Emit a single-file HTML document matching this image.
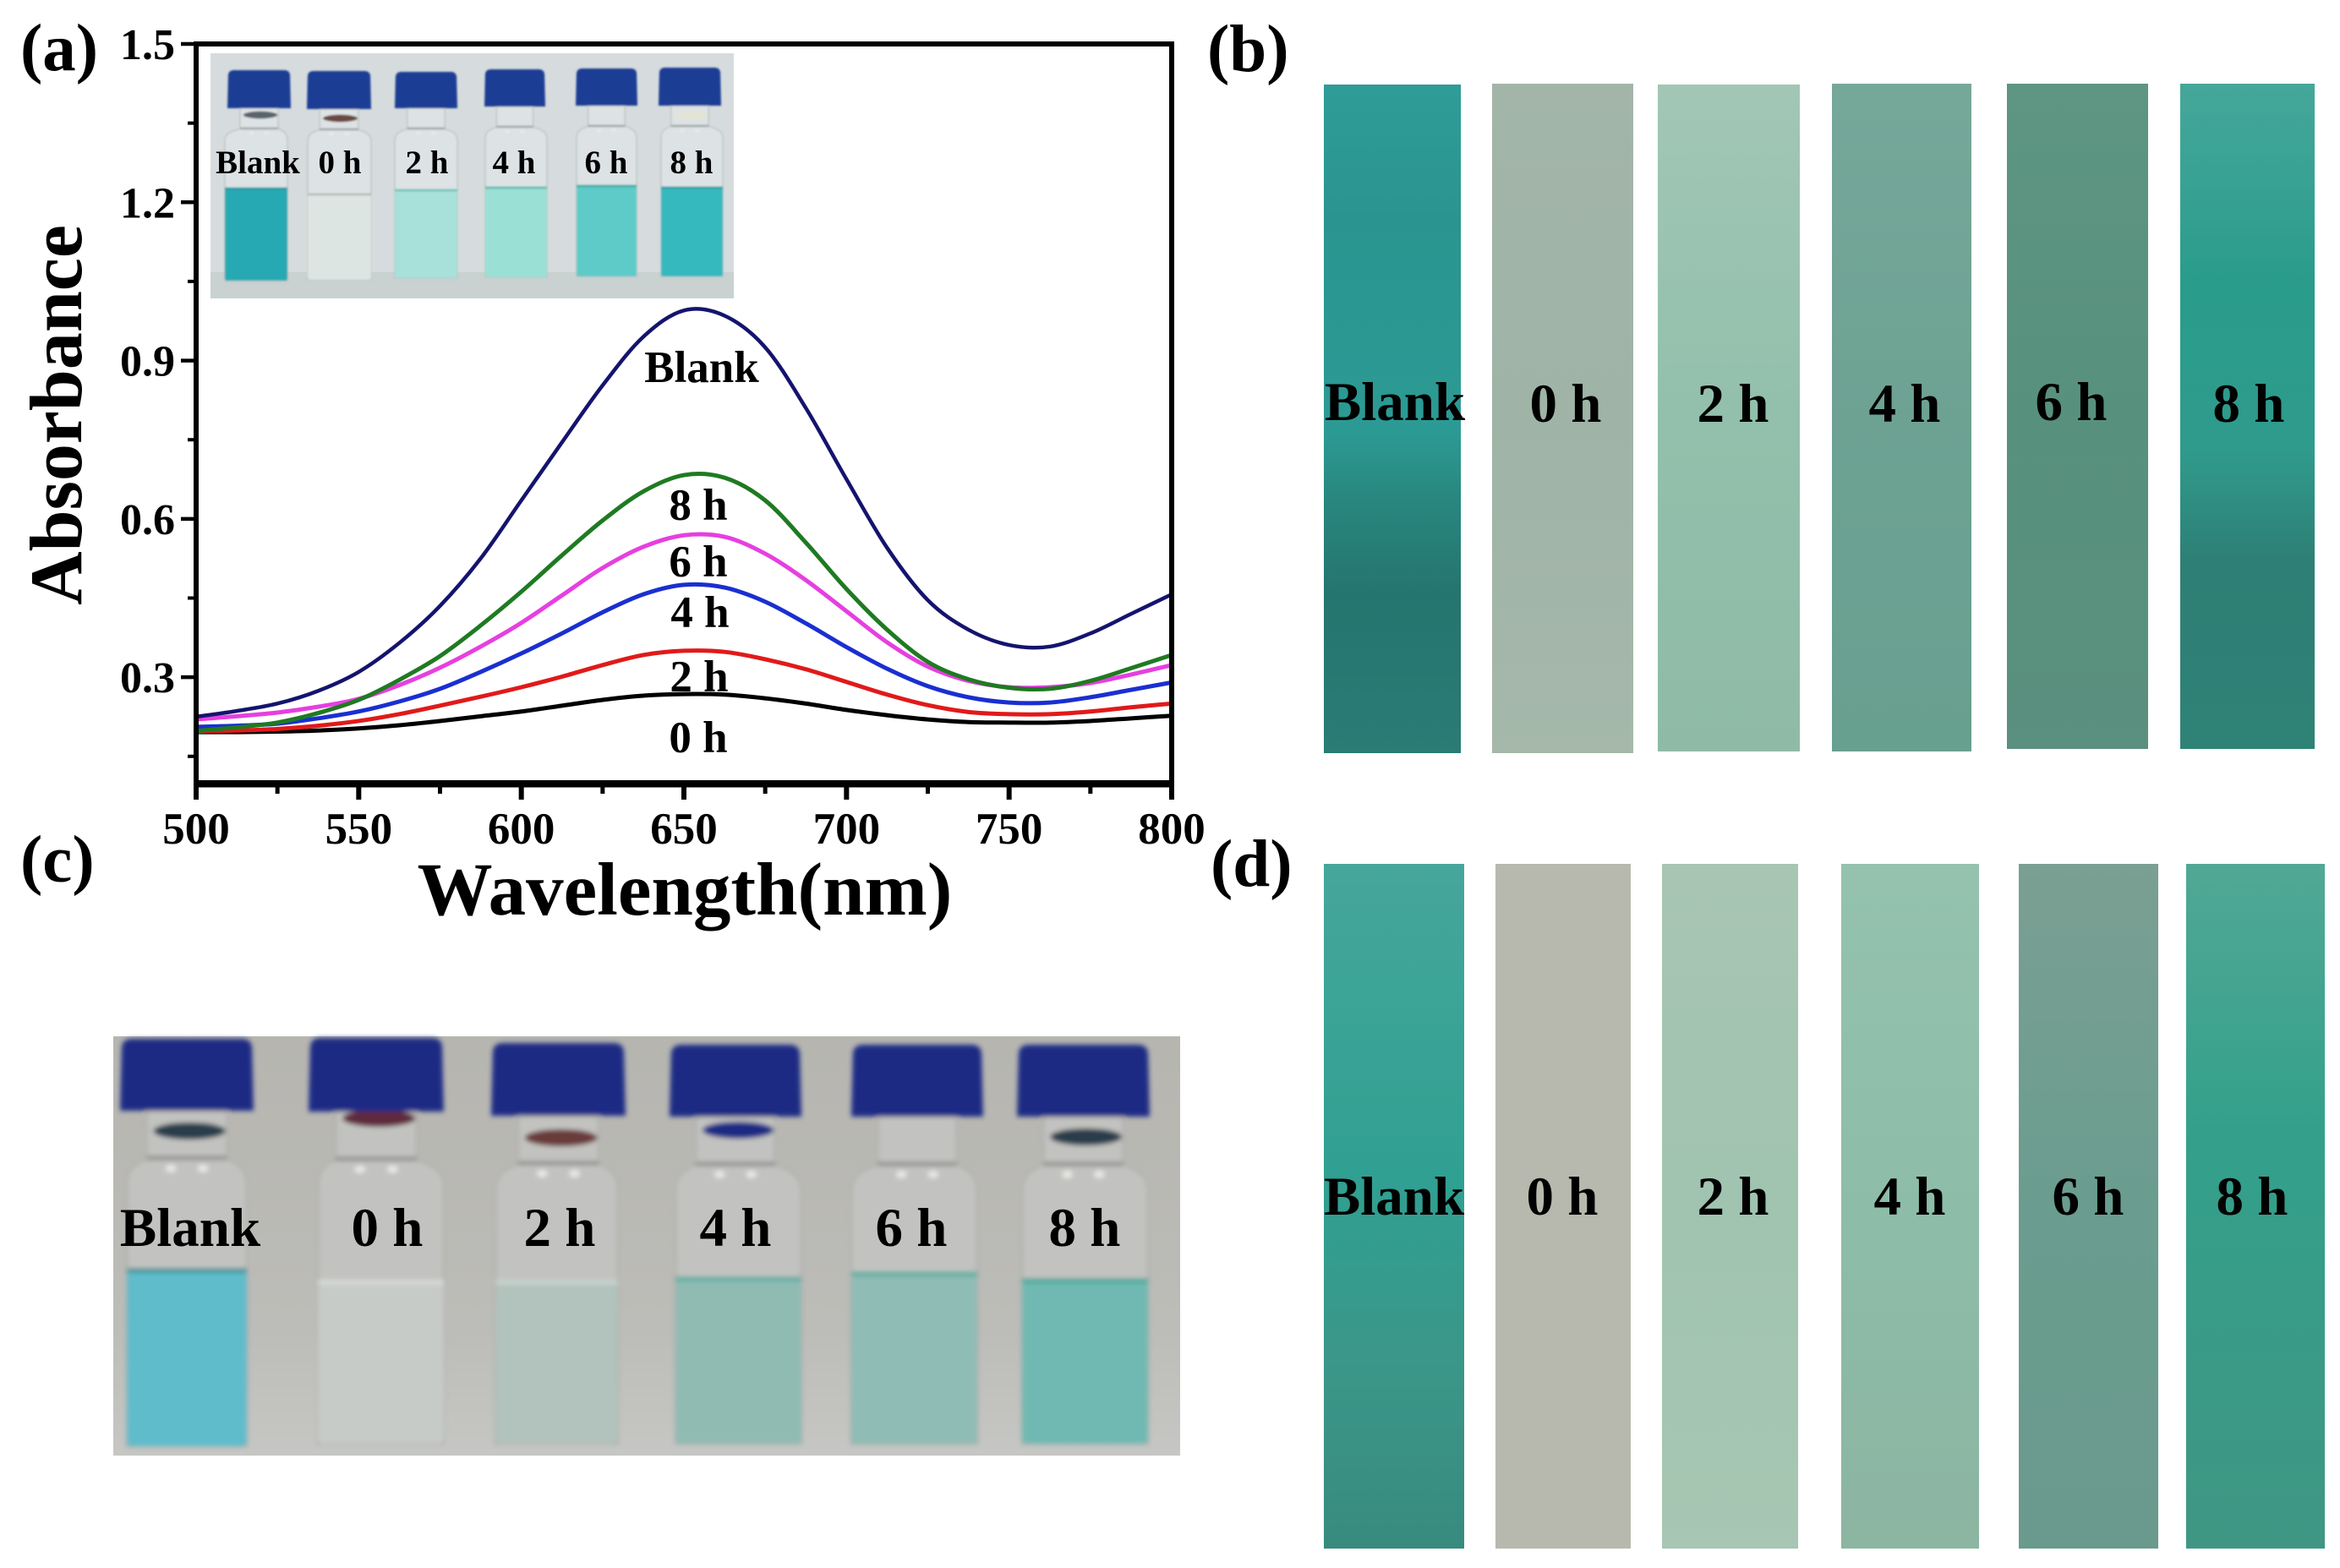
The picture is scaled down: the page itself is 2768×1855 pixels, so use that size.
<!DOCTYPE html>
<html lang="en">
<head>
<meta charset="utf-8">
<title>Absorbance spectra and colorimetric test strips</title>
<style>
html,body{margin:0;padding:0;background:#fff;width:2768px;height:1855px;overflow:hidden}
svg{display:block;position:absolute;left:0;top:0}
text{font-family:"Liberation Serif",serif;font-weight:bold;fill:#000}
.strip-label{font-size:65px;text-anchor:middle}
.c-label{font-size:65px;text-anchor:middle}
.inset-label{font-size:39px;text-anchor:middle}
.curve-label{font-size:53px;text-anchor:middle}
.panel{font-size:79px}
</style>
</head>
<body>
<svg id="fig" xmlns="http://www.w3.org/2000/svg" width="2768" height="1855" viewBox="0 0 2768 1855">
<defs>
<filter id="blurC" x="-10%" y="-10%" width="120%" height="120%"><feGaussianBlur stdDeviation="3"/></filter>
<filter id="blurI" x="-10%" y="-10%" width="120%" height="120%"><feGaussianBlur stdDeviation="1"/></filter>
<linearGradient id="photoBg" x1="0" y1="0" x2="0" y2="1"><stop offset="0" stop-color="#b6b5b0"/><stop offset=".7" stop-color="#bcbcb8"/><stop offset="1" stop-color="#c6c7c4"/></linearGradient>
<linearGradient id="bBlank" x1="0" y1="0" x2="0" y2="1"><stop offset="0" stop-color="#2f9c98"/><stop offset=".2" stop-color="#2a9590"/><stop offset=".52" stop-color="#2c9a94"/><stop offset=".62" stop-color="#28877f"/><stop offset=".76" stop-color="#25756f"/><stop offset="1" stop-color="#2a7c75"/></linearGradient>
<linearGradient id="b0" x1="0" y1="0" x2="0" y2="1"><stop offset="0" stop-color="#a3b5a9"/><stop offset=".5" stop-color="#9fb3a7"/><stop offset="1" stop-color="#a5b8aa"/></linearGradient>
<linearGradient id="b2" x1="0" y1="0" x2="0" y2="1"><stop offset="0" stop-color="#a2c6b6"/><stop offset=".5" stop-color="#92c0ac"/><stop offset="1" stop-color="#8fbba6"/></linearGradient>
<linearGradient id="b4" x1="0" y1="0" x2="0" y2="1"><stop offset="0" stop-color="#76a89a"/><stop offset=".5" stop-color="#6da293"/><stop offset="1" stop-color="#68a090"/></linearGradient>
<linearGradient id="b6" x1="0" y1="0" x2="0" y2="1"><stop offset="0" stop-color="#5e9583"/><stop offset=".5" stop-color="#57917d"/><stop offset="1" stop-color="#5b8f7f"/></linearGradient>
<linearGradient id="b8" x1="0" y1="0" x2="0" y2="1"><stop offset="0" stop-color="#45a79a"/><stop offset=".3" stop-color="#2a9c8c"/><stop offset=".55" stop-color="#2f9b8c"/><stop offset=".72" stop-color="#2e7f75"/><stop offset="1" stop-color="#2f8276"/></linearGradient>
<linearGradient id="dBlank" x1="0" y1="0" x2="0" y2="1"><stop offset="0" stop-color="#46a69c"/><stop offset=".45" stop-color="#30a092"/><stop offset=".75" stop-color="#3b9688"/><stop offset="1" stop-color="#378b7e"/></linearGradient>
<linearGradient id="d2" x1="0" y1="0" x2="0" y2="1"><stop offset="0" stop-color="#a8c5b3"/><stop offset=".5" stop-color="#a0c4b0"/><stop offset="1" stop-color="#a7c6b3"/></linearGradient>
<linearGradient id="d4" x1="0" y1="0" x2="0" y2="1"><stop offset="0" stop-color="#94c2ae"/><stop offset=".5" stop-color="#8dbda9"/><stop offset="1" stop-color="#8cb5a2"/></linearGradient>
<linearGradient id="d6" x1="0" y1="0" x2="0" y2="1"><stop offset="0" stop-color="#7a9f93"/><stop offset=".5" stop-color="#6a9d8f"/><stop offset="1" stop-color="#6a9a8d"/></linearGradient>
<linearGradient id="d8" x1="0" y1="0" x2="0" y2="1"><stop offset="0" stop-color="#51a895"/><stop offset=".4" stop-color="#33a08b"/><stop offset="1" stop-color="#3f9683"/></linearGradient>
</defs>

<!-- chart (a) -->
<g id="chart"></g>
<text class="panel" x="24" y="83">(a)</text>
<text x="810" y="1082" font-size="89" text-anchor="middle">Wavelength(nm)</text>
<text transform="translate(96,491) rotate(-90)" font-size="88" text-anchor="middle">Absorbance</text>
<text class="curve-label" x="830" y="452">Blank</text>
<text class="curve-label" x="826" y="615">8 h</text>
<text class="curve-label" x="826" y="682">6 h</text>
<text class="curve-label" x="828" y="742">4 h</text>
<text class="curve-label" x="827" y="818">2 h</text>
<text class="curve-label" x="826" y="890">0 h</text>

<!-- inset photo -->
<g>
<rect x="249" y="63" width="619" height="290" fill="#d6dcdd"/>
<rect x="249" y="322" width="619" height="31" fill="#c9d1d1"/>
<g id="insetVials" filter="url(#blurI)"></g>
<text class="inset-label" x="305" y="205">Blank</text>
<text class="inset-label" x="402" y="205">0 h</text>
<text class="inset-label" x="505" y="205">2 h</text>
<text class="inset-label" x="608" y="205">4 h</text>
<text class="inset-label" x="717" y="205">6 h</text>
<text class="inset-label" x="818" y="205">8 h</text>
</g>

<!-- panel b -->
<text class="panel" x="1428" y="84">(b)</text>
<g>
<rect x="1566" y="100" width="162" height="791" fill="url(#bBlank)"/>
<rect x="1765" y="99" width="167" height="792" fill="url(#b0)"/>
<rect x="1961" y="100" width="168" height="789" fill="url(#b2)"/>
<rect x="2167" y="99" width="165" height="790" fill="url(#b4)"/>
<rect x="2374" y="99" width="167" height="787" fill="url(#b6)"/>
<rect x="2579" y="99" width="159" height="787" fill="url(#b8)"/>
<text class="strip-label" x="1650" y="497">Blank</text>
<text class="strip-label" x="1852" y="499">0 h</text>
<text class="strip-label" x="2050" y="499">2 h</text>
<text class="strip-label" x="2253" y="499">4 h</text>
<text class="strip-label" x="2450" y="497">6 h</text>
<text class="strip-label" x="2660" y="499">8 h</text>
</g>

<!-- panel c -->
<text class="panel" x="24" y="1043">(c)</text>
<g>
<rect x="134" y="1226" width="1262" height="496" fill="url(#photoBg)"/>
<g id="photoVials" filter="url(#blurC)"></g>
<text class="c-label" x="225" y="1474">Blank</text>
<text class="c-label" x="458" y="1474">0 h</text>
<text class="c-label" x="662" y="1474">2 h</text>
<text class="c-label" x="870" y="1474">4 h</text>
<text class="c-label" x="1078" y="1474">6 h</text>
<text class="c-label" x="1283" y="1474">8 h</text>
</g>

<!-- panel d -->
<text class="panel" x="1432" y="1048">(d)</text>
<g>
<rect x="1566" y="1022" width="166" height="810" fill="url(#dBlank)"/>
<rect x="1769" y="1022" width="160" height="810" fill="#b8b9ae"/>
<rect x="1966" y="1022" width="161" height="810" fill="url(#d2)"/>
<rect x="2178" y="1022" width="163" height="810" fill="url(#d4)"/>
<rect x="2388" y="1022" width="165" height="810" fill="url(#d6)"/>
<rect x="2586" y="1022" width="164" height="810" fill="url(#d8)"/>
<text class="strip-label" x="1649" y="1437">Blank</text>
<text class="strip-label" x="1848" y="1437">0 h</text>
<text class="strip-label" x="2050" y="1437">2 h</text>
<text class="strip-label" x="2259" y="1437">4 h</text>
<text class="strip-label" x="2470" y="1437">6 h</text>
<text class="strip-label" x="2664" y="1437">8 h</text>
</g>
</svg>

<script>
// Chart data
var wavelengths = [500, 512.5, 525, 537.5, 550, 562.5, 575, 587.5, 600, 612.5, 625, 637.5, 650, 662.5, 675, 687.5, 700, 712.5, 725, 737.5, 750, 762.5, 775, 787.5, 800];
var blankValues = [0.225, 0.236, 0.25, 0.274, 0.31, 0.365, 0.435, 0.525, 0.635, 0.745, 0.853, 0.945, 0.995, 0.985, 0.925, 0.81, 0.675, 0.545, 0.446, 0.39, 0.361, 0.358, 0.383, 0.42, 0.457];
var h8Values = [0.198, 0.205, 0.214, 0.232, 0.257, 0.295, 0.34, 0.398, 0.462, 0.531, 0.597, 0.652, 0.683, 0.678, 0.635, 0.555, 0.467, 0.39, 0.329, 0.296, 0.28, 0.278, 0.293, 0.317, 0.342];
var h6Values = [0.22, 0.226, 0.233, 0.244, 0.259, 0.285, 0.318, 0.358, 0.403, 0.455, 0.507, 0.547, 0.569, 0.566, 0.534, 0.484, 0.425, 0.366, 0.32, 0.293, 0.281, 0.281, 0.289, 0.305, 0.323];
var h4Values = [0.206, 0.208, 0.212, 0.222, 0.235, 0.254, 0.278, 0.31, 0.345, 0.383, 0.423, 0.457, 0.475, 0.47, 0.443, 0.402, 0.357, 0.316, 0.283, 0.262, 0.252, 0.252, 0.262, 0.276, 0.29];
var h2Values = [0.197, 0.199, 0.202, 0.208, 0.217, 0.23, 0.246, 0.263, 0.281, 0.301, 0.323, 0.342, 0.35, 0.348, 0.334, 0.315, 0.291, 0.267, 0.247, 0.234, 0.23, 0.23, 0.235, 0.243, 0.25];
var h0Values = [0.196, 0.196, 0.197, 0.199, 0.203, 0.209, 0.217, 0.226, 0.235, 0.246, 0.257, 0.265, 0.268, 0.267, 0.26, 0.25, 0.238, 0.228, 0.22, 0.215, 0.214, 0.214, 0.217, 0.222, 0.227];
var xTickValues = [500, 550, 600, 650, 700, 750, 800];
var yTickValues = [0.3, 0.6, 0.9, 1.2, 1.5];

var NS = 'http://www.w3.org/2000/svg';
var plotL = 232, plotR = 1386, plotT = 52, plotB = 926;
var xMin = 500, xMax = 800, yMin = 0.1, yMax = 1.5;
function xScale(v) { return plotL + (v - xMin) / (xMax - xMin) * (plotR - plotL); }
function yScale(v) { return plotB - (v - yMin) / (yMax - yMin) * (plotB - plotT); }
function mk(tag, parent) {
  var el = document.createElementNS(NS, tag);
  parent.appendChild(el);
  return el;
}
function line(parent, x1, y1, x2, y2, w) {
  var el = mk('line', parent);
  el.setAttribute('x1', x1);
  el.setAttribute('y1', y1);
  el.setAttribute('x2', x2);
  el.setAttribute('y2', y2);
  el.setAttribute('stroke', '#000');
  el.setAttribute('stroke-width', w);
  return el;
}
function curvePath(ys) {
  var pts = wavelengths.map(function (w, i) { return [xScale(w), yScale(ys[i])]; });
  var d = 'M' + pts[0][0] + ' ' + pts[0][1];
  for (var i = 0; i < pts.length - 1; i++) {
    var p0 = pts[Math.max(i - 1, 0)], p1 = pts[i], p2 = pts[i + 1], p3 = pts[Math.min(i + 2, pts.length - 1)];
    var t1 = (p2[0] - p1[0]) / (p2[0] - p0[0] || 1) / 3;
    var t2 = (p2[0] - p1[0]) / (p3[0] - p1[0] || 1) / 3;
    d += ' C' + (p1[0] + (p2[0] - p0[0]) * t1) + ' ' + (p1[1] + (p2[1] - p0[1]) * t1) + ' ' +
      (p2[0] - (p3[0] - p1[0]) * t2) + ' ' + (p2[1] - (p3[1] - p1[1]) * t2) + ' ' + p2[0] + ' ' + p2[1];
  }
  return d;
}

var chart = document.getElementById('chart');

// Series
var seriesList = [
  { name: 'curve-0h', vals: h0Values, color: '#000000', w: 5 },
  { name: 'curve-2h', vals: h2Values, color: '#e01a1a', w: 5 },
  { name: 'curve-4h', vals: h4Values, color: '#1a2fd0', w: 5 },
  { name: 'curve-6h', vals: h6Values, color: '#e63fe0', w: 5 },
  { name: 'curve-8h', vals: h8Values, color: '#1f7a22', w: 5 },
  { name: 'curve-blank', vals: blankValues, color: '#14146e', w: 4.5 }
];
seriesList.forEach(function (s) {
  var p = mk('path', chart);
  p.setAttribute('d', curvePath(s.vals));
  p.setAttribute('fill', 'none');
  p.setAttribute('stroke', s.color);
  p.setAttribute('stroke-width', s.w);
  
  
});

// Frame
var frame = mk('rect', chart);
frame.setAttribute('x', plotL);
frame.setAttribute('y', plotT);
frame.setAttribute('width', plotR - plotL);
frame.setAttribute('height', plotB - plotT);
frame.setAttribute('fill', 'none');
frame.setAttribute('stroke', '#000');
frame.setAttribute('stroke-width', 6);


var bottomAxis = line(chart, plotL - 3, plotB + 2, plotR + 3, plotB + 2, 7);



// X ticks
xTickValues.forEach(function (v, i) {
  var t = line(chart, xScale(v), plotB, xScale(v), plotB + 20, 6);
  
  
  var lab = mk('text', chart);
  lab.setAttribute('x', xScale(v));
  lab.setAttribute('y', 998);
  lab.setAttribute('font-size', 53);
  lab.setAttribute('text-anchor', 'middle');
  
  
  lab.textContent = String(v);
  if (i < xTickValues.length - 1) {
    var m = line(chart, xScale(v + 25), plotB, xScale(v + 25), plotB + 13, 5);
    
    
  }
});

// Y ticks
yTickValues.forEach(function (v) {
  var t = line(chart, plotL - 18, yScale(v), plotL, yScale(v), 4.5);
  
  
  var lab = mk('text', chart);
  lab.setAttribute('x', 207);
  lab.setAttribute('y', yScale(v) + 18);
  lab.setAttribute('font-size', 52);
  lab.setAttribute('text-anchor', 'end');
  
  
  lab.textContent = v.toFixed(1);
  var m = line(chart, plotL - 10, yScale(v - 0.15), plotL, yScale(v - 0.15), 4);
  
  
});

// Vials
function drawVial(parent, v, cfg) {
  var w = v.x2 - v.x1;
  var cx = (v.x1 + v.x2) / 2;
  var neckW = w * 0.6;
  var shoulderY = v.capB + cfg.neck;
  var body = mk('path', parent);
  body.setAttribute('d', 'M' + (cx - neckW / 2) + ' ' + v.capB +
    ' V' + shoulderY +
    ' C' + (cx - neckW * 0.55) + ' ' + (shoulderY + cfg.neck * 0.1) + ' ' + v.lx1 + ' ' + (shoulderY + cfg.neck * 0.1) + ' ' + v.lx1 + ' ' + (shoulderY + cfg.neck * 0.6) +
    ' V' + v.bottom + ' H' + v.lx2 +
    ' V' + (shoulderY + cfg.neck * 0.6) +
    ' C' + v.lx2 + ' ' + (shoulderY + cfg.neck * 0.1) + ' ' + (cx + neckW * 0.55) + ' ' + (shoulderY + cfg.neck * 0.1) + ' ' + (cx + neckW / 2) + ' ' + shoulderY +
    ' V' + v.capB + ' Z');
  body.setAttribute('fill', cfg.glass);
  body.setAttribute('stroke', cfg.edge);
  body.setAttribute('stroke-width', cfg.edgeW);
  
  
  var liquid = mk('rect', parent);
  liquid.setAttribute('x', v.lx1);
  liquid.setAttribute('y', v.top);
  liquid.setAttribute('width', v.lx2 - v.lx1);
  liquid.setAttribute('height', v.bottom - v.top);
  liquid.setAttribute('rx', cfg.edgeW * 2);
  liquid.setAttribute('fill', v.liquid);
  
  
  var meniscus = mk('rect', parent);
  meniscus.setAttribute('x', v.lx1);
  meniscus.setAttribute('y', v.top - cfg.edgeW);
  meniscus.setAttribute('width', v.lx2 - v.lx1);
  meniscus.setAttribute('height', cfg.edgeW * 2);
  meniscus.setAttribute('fill', v.rim);
  
  
  var collar = mk('rect', parent);
  collar.setAttribute('x', cx - neckW / 2);
  collar.setAttribute('y', shoulderY - cfg.edgeW);
  collar.setAttribute('width', neckW);
  collar.setAttribute('height', cfg.edgeW * 2);
  collar.setAttribute('fill', cfg.collar);
  
  
  [-0.12, 0.12].forEach(function (off) {
    var shine = mk('ellipse', parent);
    shine.setAttribute('cx', cx + off * w);
    shine.setAttribute('cy', shoulderY + cfg.neck * 0.22);
    shine.setAttribute('rx', w * 0.04);
    shine.setAttribute('ry', cfg.neck * 0.08);
    shine.setAttribute('fill', '#e8e9e7');
    
    
  });
  if (v.seal) {
    var seal = mk('ellipse', parent);
    seal.setAttribute('cx', cx + w * 0.02);
    seal.setAttribute('cy', v.capB + v.sealDrop);
    seal.setAttribute('rx', w * 0.27);
    seal.setAttribute('ry', cfg.neck * 0.18);
    seal.setAttribute('fill', v.seal);
    
    
  }
  var inset = w * 0.012;
  var cap = mk('path', parent);
  cap.setAttribute('d', 'M' + v.x1 + ' ' + v.capB +
    ' L' + (v.x1 + inset) + ' ' + (v.capT + cfg.capR) +
    ' Q' + (v.x1 + inset) + ' ' + v.capT + ' ' + (v.x1 + inset + cfg.capR) + ' ' + v.capT +
    ' H' + (v.x2 - inset - cfg.capR) +
    ' Q' + (v.x2 - inset) + ' ' + v.capT + ' ' + (v.x2 - inset) + ' ' + (v.capT + cfg.capR) +
    ' L' + v.x2 + ' ' + v.capB + ' Z');
  cap.setAttribute('fill', cfg.capColor);
  
  
}

var insetVialCfg = { neck: 24, glass: '#dde3e4', edge: '#b7bfc1', edgeW: 1.2, capR: 7, capColor: '#1f3c94', collar: '#9aa4a6' };
var photoVialCfg = { neck: 56, glass: '#c2c3c0', edge: '#aeafac', edgeW: 2.5, capR: 12, capColor: '#1c2b84', collar: '#8f928f' };
var insetVials = [
  { x1: 269, x2: 344, capT: 83, capB: 128, lx1: 266, lx2: 340, top: 223, bottom: 332, liquid: '#27a9b3', rim: '#1a9aa2', seal: '#5a646c', sealDrop: 8 },
  { x1: 363, x2: 439, capT: 84, capB: 129, lx1: 364, lx2: 439, top: 230, bottom: 331, liquid: '#dde5e3', rim: '#aeb8b6', seal: '#6b4a42', sealDrop: 11 },
  { x1: 467, x2: 541, capT: 85, capB: 128, lx1: 467, lx2: 541, top: 225, bottom: 329, liquid: '#a8e0da', rim: '#6dbdb5' },
  { x1: 573, x2: 645, capT: 82, capB: 126, lx1: 574, lx2: 647, top: 222, bottom: 328, liquid: '#9be0d4', rim: '#5cb3a8' },
  { x1: 681, x2: 754, capT: 81, capB: 125, lx1: 682, lx2: 753, top: 220, bottom: 327, liquid: '#5fcbc9', rim: '#37a6a2' },
  { x1: 779, x2: 853, capT: 80, capB: 125, lx1: 782, lx2: 855, top: 222, bottom: 327, liquid: '#35b9bf', rim: '#2799a0', seal: '#e4e4d4', sealDrop: 12 }
];
var photoVials = [
  { x1: 142, x2: 300, capT: 1229, capB: 1314, lx1: 150, lx2: 292, top: 1503, bottom: 1711, liquid: '#5fbccb', rim: '#3d8f96', seal: '#2c3e4c', sealDrop: 24 },
  { x1: 365, x2: 525, capT: 1228, capB: 1315, lx1: 376, lx2: 525, top: 1517, bottom: 1708, liquid: '#c7cbc8', rim: '#d9dcd9', seal: '#5e2a3c', sealDrop: 8 },
  { x1: 581, x2: 740, capT: 1234, capB: 1320, lx1: 586, lx2: 731, top: 1517, bottom: 1708, liquid: '#b2c2bc', rim: '#c8d4cf', seal: '#6a3a3a', sealDrop: 26 },
  { x1: 792, x2: 948, capT: 1236, capB: 1321, lx1: 799, lx2: 948, top: 1513, bottom: 1708, liquid: '#90bbb3', rim: '#53aca0', seal: '#1c2b84', sealDrop: 16 },
  { x1: 1007, x2: 1163, capT: 1236, capB: 1321, lx1: 1007, lx2: 1156, top: 1507, bottom: 1708, liquid: '#8fbcb4', rim: '#53aca0' },
  { x1: 1203, x2: 1360, capT: 1236, capB: 1321, lx1: 1209, lx2: 1358, top: 1515, bottom: 1708, liquid: '#6fb9b2', rim: '#3ea69a', seal: '#2c3e4c', sealDrop: 24 }
];
var insetGroup = document.getElementById('insetVials');
insetVials.forEach(function (v) { drawVial(insetGroup, v, insetVialCfg); });
var photoGroup = document.getElementById('photoVials');
photoVials.forEach(function (v) { drawVial(photoGroup, v, photoVialCfg); });
</script>
</body>
</html>
